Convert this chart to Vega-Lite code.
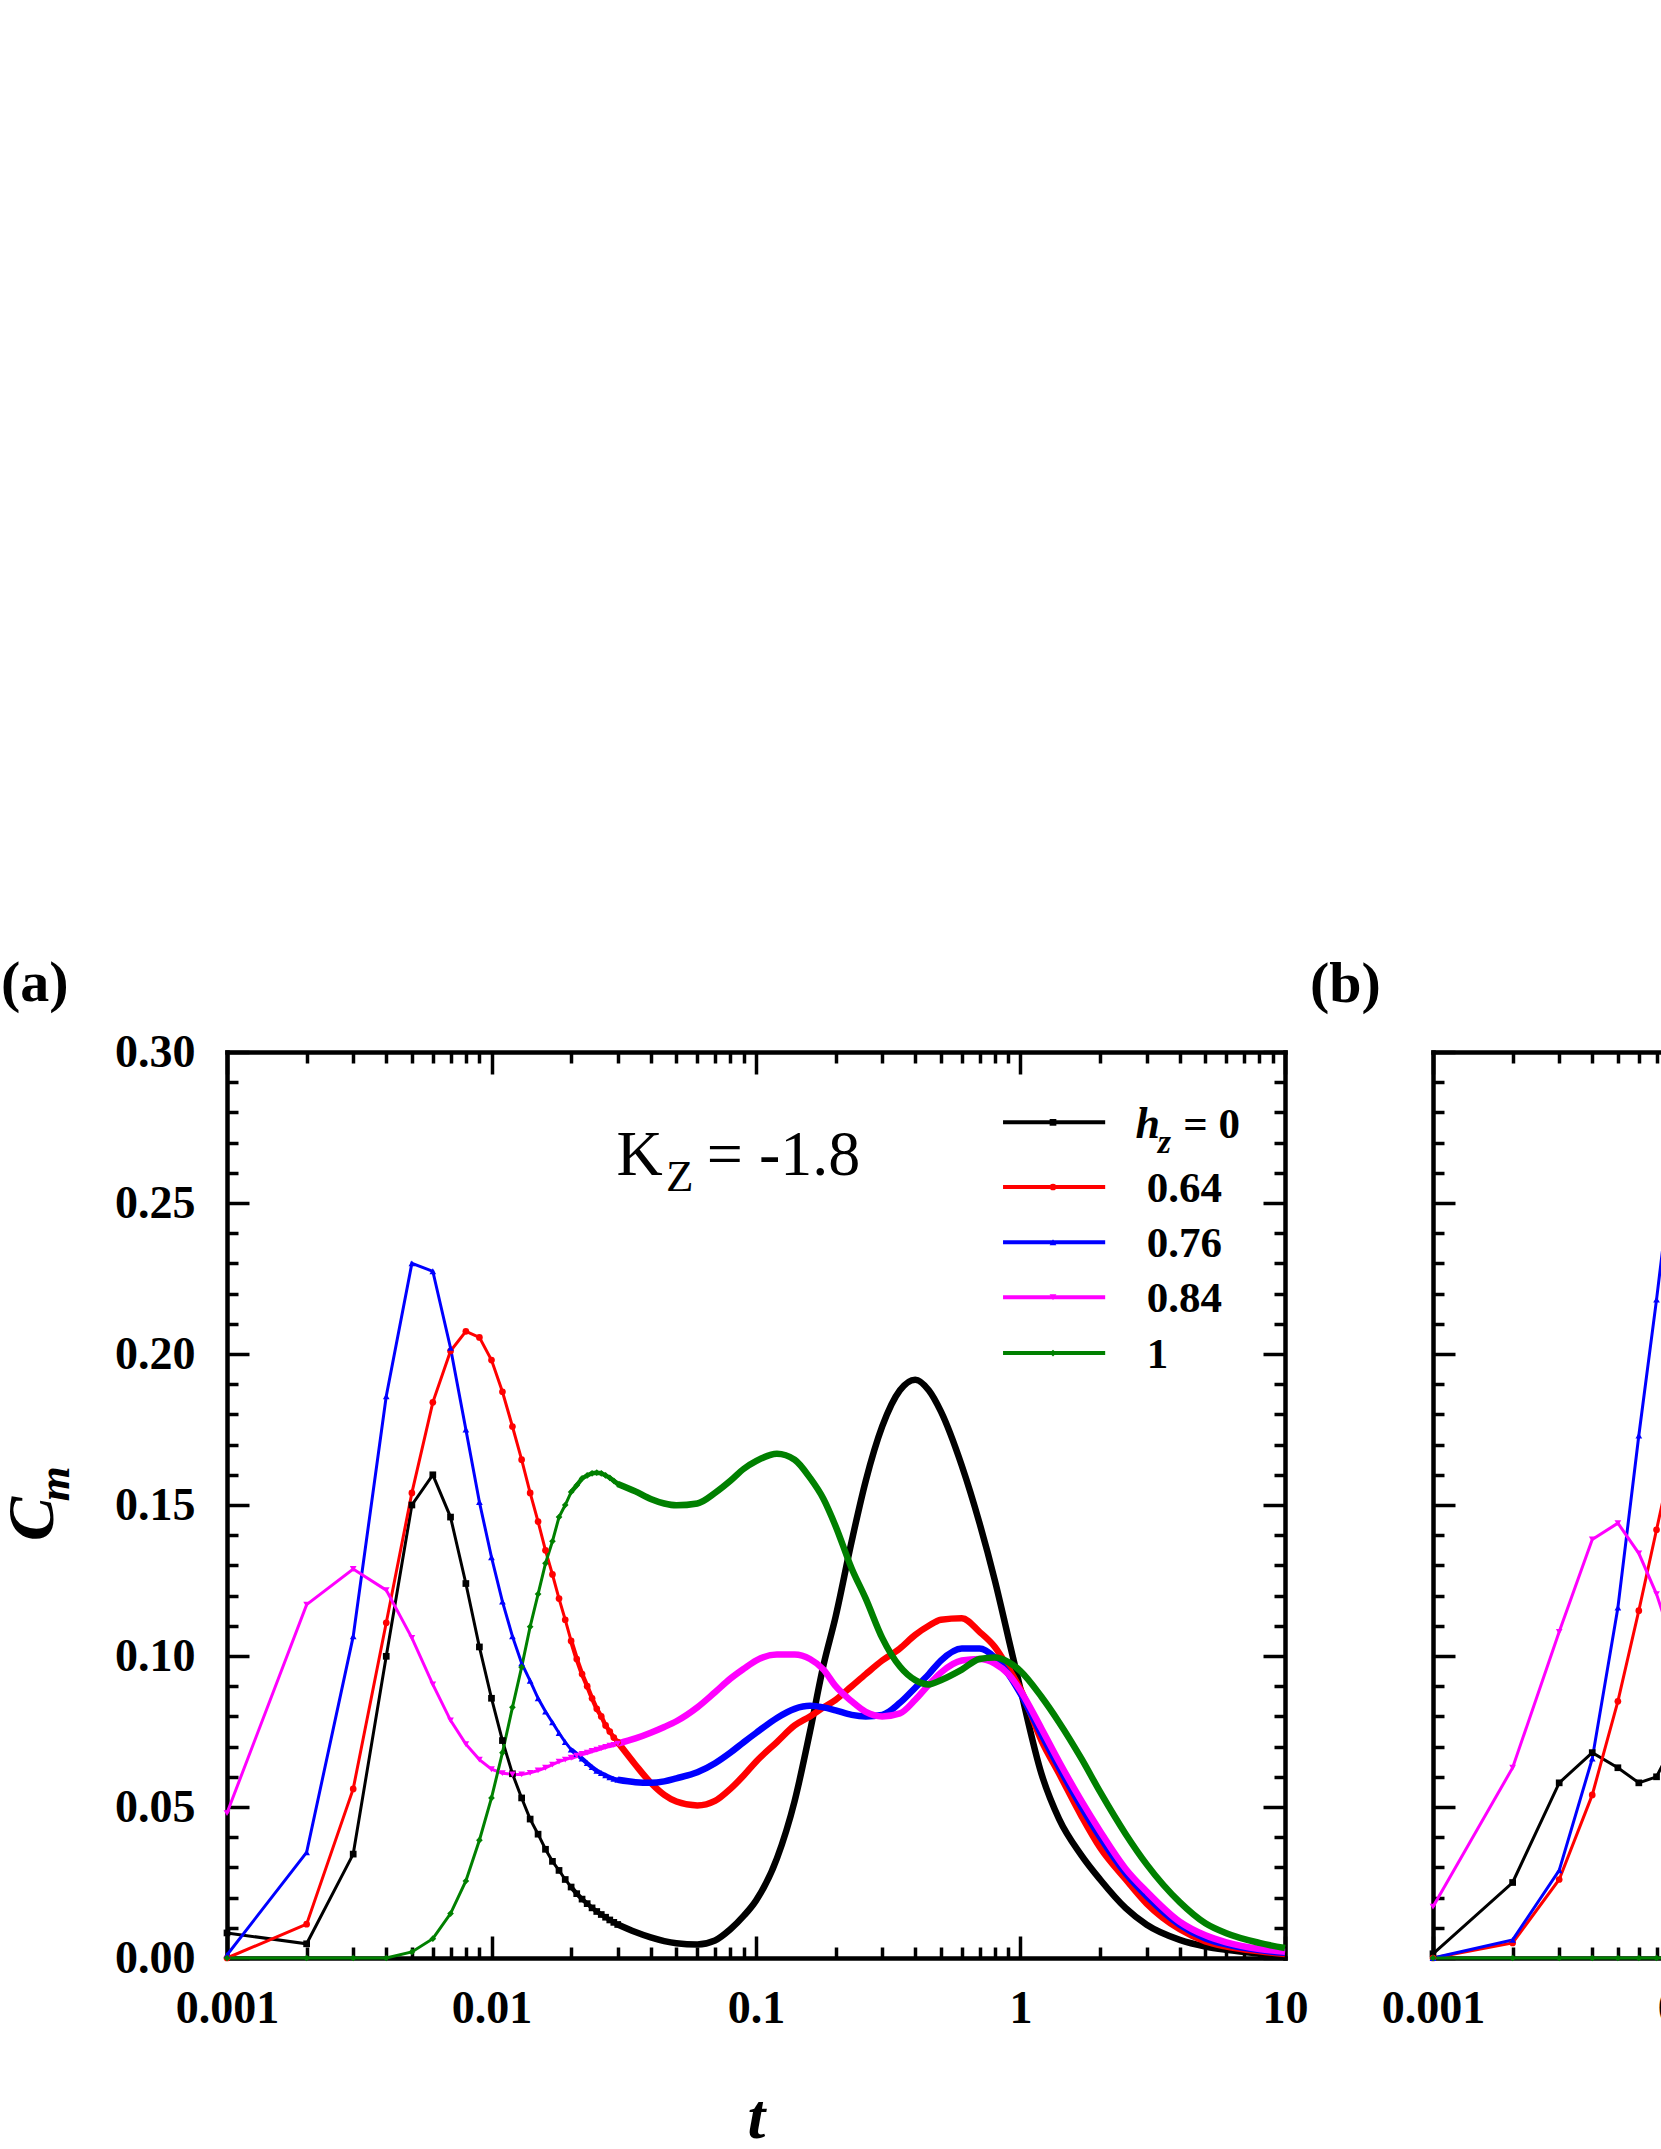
{
  "$schema": "https://vega.github.io/schema/vega-lite/v6.json",
  "background": "white",
  "padding": {"left": 0, "top": 955, "right": 0, "bottom": 0},
  "bounds": "flush",
  "spacing": 148,
  "config": {
    "view": {"stroke": null},
    "font": "Liberation Serif",
    "axis": {
      "grid": false,
      "domainColor": "black",
      "domainWidth": 4.5,
      "domainCap": "square",
      "tickColor": "black",
      "tickWidth": 3.5,
      "labelFont": "Liberation Serif",
      "labelFontWeight": "bold",
      "labelFontSize": 46,
      "labelColor": "black",
      "labelFlush": false,
      "labelOverlap": false,
      "labelBound": false
    }
  },
  "datasets": {
    "a": [
      {"s":"0","t":0.001,"c":0.0083},{"s":"0","t":0.002,"c":0.0047},{"s":"0","t":0.003,"c":0.0344},{"s":"0","t":0.004,"c":0.0999},{"s":"0","t":0.005,"c":0.150},{"s":"0","t":0.006,"c":0.160},{"s":"0","t":0.007,"c":0.146},{"s":"0","t":0.008,"c":0.124},{"s":"0","t":0.009,"c":0.103},{"s":"0","t":0.010,"c":0.086},
      {"s":"0","t":0.011,"c":0.072},{"s":"0","t":0.012,"c":0.061},{"s":"0","t":0.013,"c":0.053},{"s":"0","t":0.014,"c":0.046},{"s":"0","t":0.015,"c":0.041},{"s":"0","t":0.016,"c":0.036},{"s":"0","t":0.017,"c":0.032},{"s":"0","t":0.018,"c":0.029},{"s":"0","t":0.019,"c":0.026},{"s":"0","t":0.020,"c":0.0235},
      {"s":"0","t":0.021,"c":0.0213},{"s":"0","t":0.022,"c":0.0195},{"s":"0","t":0.023,"c":0.018},{"s":"0","t":0.024,"c":0.0166},{"s":"0","t":0.025,"c":0.0154},{"s":"0","t":0.026,"c":0.0144},{"s":"0","t":0.027,"c":0.0135},{"s":"0","t":0.028,"c":0.0126},{"s":"0","t":0.029,"c":0.0118},{"s":"0","t":0.030,"c":0.0111},
      {"s":"0","t":0.035,"c":0.0086},{"s":"0","t":0.04,"c":0.0068},{"s":"0","t":0.045,"c":0.0056},{"s":"0","t":0.05,"c":0.0049},{"s":"0","t":0.06,"c":0.0045},{"s":"0","t":0.07,"c":0.0058},{"s":"0","t":0.08,"c":0.0095},{"s":"0","t":0.09,"c":0.014},{"s":"0","t":0.1,"c":0.019},{"s":"0","t":0.12,"c":0.033},
      {"s":"0","t":0.14,"c":0.052},{"s":"0","t":0.16,"c":0.075},{"s":"0","t":0.18,"c":0.097},{"s":"0","t":0.2,"c":0.113},{"s":"0","t":0.23,"c":0.138},{"s":"0","t":0.26,"c":0.158},{"s":"0","t":0.3,"c":0.176},{"s":"0","t":0.35,"c":0.188},{"s":"0","t":0.4,"c":0.1915},{"s":"0","t":0.45,"c":0.188},
      {"s":"0","t":0.5,"c":0.181},{"s":"0","t":0.6,"c":0.163},{"s":"0","t":0.7,"c":0.144},{"s":"0","t":0.8,"c":0.125},{"s":"0","t":0.9,"c":0.106},{"s":"0","t":1,"c":0.089},{"s":"0","t":1.2,"c":0.061},{"s":"0","t":1.4,"c":0.046},{"s":"0","t":1.7,"c":0.034},{"s":"0","t":2,"c":0.026},
      {"s":"0","t":2.5,"c":0.0165},{"s":"0","t":3,"c":0.011},{"s":"0","t":4,"c":0.006},{"s":"0","t":5,"c":0.0038},{"s":"0","t":6,"c":0.0027},{"s":"0","t":8,"c":0.0015},{"s":"0","t":10,"c":0.0008},

      {"s":"0.64","t":0.001,"c":0},{"s":"0.64","t":0.002,"c":0.0112},{"s":"0.64","t":0.003,"c":0.056},{"s":"0.64","t":0.004,"c":0.111},{"s":"0.64","t":0.005,"c":0.154},{"s":"0.64","t":0.006,"c":0.184},{"s":"0.64","t":0.007,"c":0.201},{"s":"0.64","t":0.008,"c":0.2075},{"s":"0.64","t":0.009,"c":0.2055},{"s":"0.64","t":0.010,"c":0.198},
      {"s":"0.64","t":0.011,"c":0.1875},{"s":"0.64","t":0.012,"c":0.176},{"s":"0.64","t":0.013,"c":0.165},{"s":"0.64","t":0.014,"c":0.154},{"s":"0.64","t":0.015,"c":0.1445},{"s":"0.64","t":0.016,"c":0.135},{"s":"0.64","t":0.017,"c":0.127},{"s":"0.64","t":0.018,"c":0.119},{"s":"0.64","t":0.019,"c":0.112},{"s":"0.64","t":0.020,"c":0.105},
      {"s":"0.64","t":0.021,"c":0.099},{"s":"0.64","t":0.022,"c":0.094},{"s":"0.64","t":0.023,"c":0.090},{"s":"0.64","t":0.024,"c":0.086},{"s":"0.64","t":0.025,"c":0.0825},{"s":"0.64","t":0.026,"c":0.080},{"s":"0.64","t":0.027,"c":0.077},{"s":"0.64","t":0.028,"c":0.075},{"s":"0.64","t":0.029,"c":0.073},{"s":"0.64","t":0.030,"c":0.0715},
      {"s":"0.64","t":0.035,"c":0.064},{"s":"0.64","t":0.04,"c":0.058},{"s":"0.64","t":0.045,"c":0.054},{"s":"0.64","t":0.05,"c":0.0518},{"s":"0.64","t":0.06,"c":0.0505},{"s":"0.64","t":0.07,"c":0.052},{"s":"0.64","t":0.08,"c":0.056},{"s":"0.64","t":0.09,"c":0.0605},{"s":"0.64","t":0.1,"c":0.065},{"s":"0.64","t":0.12,"c":0.0715},
      {"s":"0.64","t":0.14,"c":0.077},{"s":"0.64","t":0.16,"c":0.080},{"s":"0.64","t":0.18,"c":0.083},{"s":"0.64","t":0.2,"c":0.0855},{"s":"0.64","t":0.23,"c":0.090},{"s":"0.64","t":0.26,"c":0.094},{"s":"0.64","t":0.3,"c":0.0985},{"s":"0.64","t":0.35,"c":0.1025},{"s":"0.64","t":0.4,"c":0.107},{"s":"0.64","t":0.45,"c":0.110},
      {"s":"0.64","t":0.5,"c":0.112},{"s":"0.64","t":0.6,"c":0.1125},{"s":"0.64","t":0.7,"c":0.108},{"s":"0.64","t":0.8,"c":0.103},{"s":"0.64","t":0.9,"c":0.096},{"s":"0.64","t":1,"c":0.089},{"s":"0.64","t":1.2,"c":0.072},{"s":"0.64","t":1.4,"c":0.061},{"s":"0.64","t":1.7,"c":0.047},{"s":"0.64","t":2,"c":0.0365},
      {"s":"0.64","t":2.5,"c":0.026},{"s":"0.64","t":3,"c":0.018},{"s":"0.64","t":4,"c":0.0095},{"s":"0.64","t":5,"c":0.0055},{"s":"0.64","t":6,"c":0.0038},{"s":"0.64","t":8,"c":0.0022},{"s":"0.64","t":10,"c":0.0013},

      {"s":"0.76","t":0.001,"c":0.001},{"s":"0.76","t":0.002,"c":0.035},{"s":"0.76","t":0.003,"c":0.1065},{"s":"0.76","t":0.004,"c":0.186},{"s":"0.76","t":0.005,"c":0.230},{"s":"0.76","t":0.006,"c":0.2274},{"s":"0.76","t":0.007,"c":0.202},{"s":"0.76","t":0.008,"c":0.175},{"s":"0.76","t":0.009,"c":0.151},{"s":"0.76","t":0.010,"c":0.1327},
      {"s":"0.76","t":0.011,"c":0.118},{"s":"0.76","t":0.012,"c":0.1065},{"s":"0.76","t":0.013,"c":0.0976},{"s":"0.76","t":0.014,"c":0.0918},{"s":"0.76","t":0.015,"c":0.086},{"s":"0.76","t":0.016,"c":0.0816},{"s":"0.76","t":0.017,"c":0.078},{"s":"0.76","t":0.018,"c":0.0745},{"s":"0.76","t":0.019,"c":0.0715},{"s":"0.76","t":0.020,"c":0.069},
      {"s":"0.76","t":0.021,"c":0.0675},{"s":"0.76","t":0.022,"c":0.066},{"s":"0.76","t":0.023,"c":0.0645},{"s":"0.76","t":0.024,"c":0.0632},{"s":"0.76","t":0.025,"c":0.062},{"s":"0.76","t":0.026,"c":0.0612},{"s":"0.76","t":0.027,"c":0.0605},{"s":"0.76","t":0.028,"c":0.0598},{"s":"0.76","t":0.029,"c":0.0593},{"s":"0.76","t":0.030,"c":0.059},
      {"s":"0.76","t":0.035,"c":0.0582},{"s":"0.76","t":0.04,"c":0.058},{"s":"0.76","t":0.045,"c":0.0585},{"s":"0.76","t":0.05,"c":0.0595},{"s":"0.76","t":0.06,"c":0.0615},{"s":"0.76","t":0.07,"c":0.0645},{"s":"0.76","t":0.08,"c":0.068},{"s":"0.76","t":0.09,"c":0.0715},{"s":"0.76","t":0.1,"c":0.0745},{"s":"0.76","t":0.12,"c":0.0795},
      {"s":"0.76","t":0.14,"c":0.0825},{"s":"0.76","t":0.16,"c":0.0835},{"s":"0.76","t":0.18,"c":0.083},{"s":"0.76","t":0.2,"c":0.082},{"s":"0.76","t":0.23,"c":0.0805},{"s":"0.76","t":0.26,"c":0.080},{"s":"0.76","t":0.3,"c":0.0805},{"s":"0.76","t":0.35,"c":0.0845},{"s":"0.76","t":0.4,"c":0.0895},{"s":"0.76","t":0.45,"c":0.094},
      {"s":"0.76","t":0.5,"c":0.0985},{"s":"0.76","t":0.6,"c":0.1025},{"s":"0.76","t":0.7,"c":0.1025},{"s":"0.76","t":0.8,"c":0.0995},{"s":"0.76","t":0.9,"c":0.094},{"s":"0.76","t":1,"c":0.0875},{"s":"0.76","t":1.2,"c":0.074},{"s":"0.76","t":1.4,"c":0.063},{"s":"0.76","t":1.7,"c":0.050},{"s":"0.76","t":2,"c":0.040},
      {"s":"0.76","t":2.5,"c":0.028},{"s":"0.76","t":3,"c":0.0205},{"s":"0.76","t":4,"c":0.011},{"s":"0.76","t":5,"c":0.0065},{"s":"0.76","t":6,"c":0.0045},{"s":"0.76","t":8,"c":0.0026},{"s":"0.76","t":10,"c":0.0017},

      {"s":"0.84","t":0.001,"c":0.048},{"s":"0.84","t":0.002,"c":0.117},{"s":"0.84","t":0.003,"c":0.1288},{"s":"0.84","t":0.004,"c":0.1218},{"s":"0.84","t":0.005,"c":0.106},{"s":"0.84","t":0.006,"c":0.0906},{"s":"0.84","t":0.007,"c":0.0787},{"s":"0.84","t":0.008,"c":0.0708},{"s":"0.84","t":0.009,"c":0.0657},{"s":"0.84","t":0.010,"c":0.0625},
      {"s":"0.84","t":0.011,"c":0.0612},{"s":"0.84","t":0.012,"c":0.0608},{"s":"0.84","t":0.013,"c":0.0608},{"s":"0.84","t":0.014,"c":0.0613},{"s":"0.84","t":0.015,"c":0.0621},{"s":"0.84","t":0.016,"c":0.063},{"s":"0.84","t":0.017,"c":0.064},{"s":"0.84","t":0.018,"c":0.065},{"s":"0.84","t":0.019,"c":0.0657},{"s":"0.84","t":0.020,"c":0.0663},
      {"s":"0.84","t":0.021,"c":0.067},{"s":"0.84","t":0.022,"c":0.0676},{"s":"0.84","t":0.023,"c":0.068},{"s":"0.84","t":0.024,"c":0.0686},{"s":"0.84","t":0.025,"c":0.069},{"s":"0.84","t":0.026,"c":0.0695},{"s":"0.84","t":0.027,"c":0.0699},{"s":"0.84","t":0.028,"c":0.0703},{"s":"0.84","t":0.029,"c":0.0706},{"s":"0.84","t":0.030,"c":0.071},
      {"s":"0.84","t":0.035,"c":0.0727},{"s":"0.84","t":0.04,"c":0.0746},{"s":"0.84","t":0.045,"c":0.0765},{"s":"0.84","t":0.05,"c":0.0784},{"s":"0.84","t":0.06,"c":0.083},{"s":"0.84","t":0.07,"c":0.088},{"s":"0.84","t":0.08,"c":0.0925},{"s":"0.84","t":0.09,"c":0.0958},{"s":"0.84","t":0.1,"c":0.0985},{"s":"0.84","t":0.12,"c":0.1005},
      {"s":"0.84","t":0.14,"c":0.1005},{"s":"0.84","t":0.16,"c":0.099},{"s":"0.84","t":0.18,"c":0.0955},{"s":"0.84","t":0.2,"c":0.090},{"s":"0.84","t":0.23,"c":0.085},{"s":"0.84","t":0.26,"c":0.0815},{"s":"0.84","t":0.3,"c":0.080},{"s":"0.84","t":0.35,"c":0.081},{"s":"0.84","t":0.4,"c":0.0855},{"s":"0.84","t":0.45,"c":0.0905},
      {"s":"0.84","t":0.5,"c":0.0945},{"s":"0.84","t":0.6,"c":0.0985},{"s":"0.84","t":0.7,"c":0.099},{"s":"0.84","t":0.8,"c":0.0975},{"s":"0.84","t":0.9,"c":0.094},{"s":"0.84","t":1,"c":0.0885},{"s":"0.84","t":1.2,"c":0.076},{"s":"0.84","t":1.4,"c":0.065},{"s":"0.84","t":1.7,"c":0.052},{"s":"0.84","t":2,"c":0.042},
      {"s":"0.84","t":2.5,"c":0.0295},{"s":"0.84","t":3,"c":0.022},{"s":"0.84","t":4,"c":0.012},{"s":"0.84","t":5,"c":0.0075},{"s":"0.84","t":6,"c":0.0052},{"s":"0.84","t":8,"c":0.003},{"s":"0.84","t":10,"c":0.0021},

      {"s":"1","t":0.001,"c":0},{"s":"1","t":0.002,"c":0},{"s":"1","t":0.003,"c":0},{"s":"1","t":0.004,"c":0},{"s":"1","t":0.005,"c":0.002},{"s":"1","t":0.006,"c":0.0064},{"s":"1","t":0.007,"c":0.0147},{"s":"1","t":0.008,"c":0.0255},{"s":"1","t":0.009,"c":0.039},{"s":"1","t":0.010,"c":0.053},
      {"s":"1","t":0.011,"c":0.068},{"s":"1","t":0.012,"c":0.083},{"s":"1","t":0.013,"c":0.0963},{"s":"1","t":0.014,"c":0.1097},{"s":"1","t":0.015,"c":0.1205},{"s":"1","t":0.016,"c":0.1307},{"s":"1","t":0.017,"c":0.138},{"s":"1","t":0.018,"c":0.146},{"s":"1","t":0.019,"c":0.150},{"s":"1","t":0.020,"c":0.1543},
      {"s":"1","t":0.021,"c":0.1565},{"s":"1","t":0.022,"c":0.1588},{"s":"1","t":0.023,"c":0.1598},{"s":"1","t":0.024,"c":0.1605},{"s":"1","t":0.025,"c":0.1607},{"s":"1","t":0.026,"c":0.1605},{"s":"1","t":0.027,"c":0.1598},{"s":"1","t":0.028,"c":0.159},{"s":"1","t":0.029,"c":0.158},{"s":"1","t":0.030,"c":0.157},
      {"s":"1","t":0.035,"c":0.1545},{"s":"1","t":0.04,"c":0.152},{"s":"1","t":0.045,"c":0.1505},{"s":"1","t":0.05,"c":0.1499},{"s":"1","t":0.06,"c":0.1505},{"s":"1","t":0.07,"c":0.154},{"s":"1","t":0.08,"c":0.158},{"s":"1","t":0.09,"c":0.162},{"s":"1","t":0.1,"c":0.1645},{"s":"1","t":0.12,"c":0.167},
      {"s":"1","t":0.14,"c":0.165},{"s":"1","t":0.16,"c":0.159},{"s":"1","t":0.18,"c":0.152},{"s":"1","t":0.2,"c":0.143},{"s":"1","t":0.23,"c":0.129},{"s":"1","t":0.26,"c":0.119},{"s":"1","t":0.3,"c":0.106},{"s":"1","t":0.35,"c":0.0965},{"s":"1","t":0.4,"c":0.092},{"s":"1","t":0.45,"c":0.0906},
      {"s":"1","t":0.5,"c":0.092},{"s":"1","t":0.6,"c":0.0955},{"s":"1","t":0.7,"c":0.099},{"s":"1","t":0.8,"c":0.0995},{"s":"1","t":0.9,"c":0.098},{"s":"1","t":1,"c":0.095},{"s":"1","t":1.2,"c":0.0865},{"s":"1","t":1.4,"c":0.078},{"s":"1","t":1.7,"c":0.066},{"s":"1","t":2,"c":0.055},
      {"s":"1","t":2.5,"c":0.041},{"s":"1","t":3,"c":0.031},{"s":"1","t":4,"c":0.0185},{"s":"1","t":5,"c":0.0115},{"s":"1","t":6,"c":0.0082},{"s":"1","t":8,"c":0.005},{"s":"1","t":10,"c":0.0033}
    ],
    "b": [
      {"s":"0","t":0.001,"c":0.0014},{"s":"0","t":0.002,"c":0.025},{"s":"0","t":0.003,"c":0.058},{"s":"0","t":0.004,"c":0.068},{"s":"0","t":0.005,"c":0.063},{"s":"0","t":0.006,"c":0.058},{"s":"0","t":0.007,"c":0.060},{"s":"0","t":0.008,"c":0.07},
      {"s":"0.64","t":0.001,"c":0},{"s":"0.64","t":0.002,"c":0.005},{"s":"0.64","t":0.003,"c":0.026},{"s":"0.64","t":0.004,"c":0.054},{"s":"0.64","t":0.005,"c":0.085},{"s":"0.64","t":0.006,"c":0.115},{"s":"0.64","t":0.007,"c":0.1418},{"s":"0.64","t":0.008,"c":0.165},
      {"s":"0.76","t":0.001,"c":0},{"s":"0.76","t":0.002,"c":0.006},{"s":"0.76","t":0.003,"c":0.029},{"s":"0.76","t":0.004,"c":0.066},{"s":"0.76","t":0.005,"c":0.116},{"s":"0.76","t":0.006,"c":0.173},{"s":"0.76","t":0.007,"c":0.218},{"s":"0.76","t":0.008,"c":0.26},
      {"s":"0.84","t":0.001,"c":0.017},{"s":"0.84","t":0.002,"c":0.063},{"s":"0.84","t":0.003,"c":0.108},{"s":"0.84","t":0.004,"c":0.1386},{"s":"0.84","t":0.005,"c":0.144},{"s":"0.84","t":0.006,"c":0.134},{"s":"0.84","t":0.007,"c":0.1205},{"s":"0.84","t":0.008,"c":0.105},
      {"s":"1","t":0.001,"c":0},{"s":"1","t":0.002,"c":0},{"s":"1","t":0.003,"c":0},{"s":"1","t":0.004,"c":0},{"s":"1","t":0.005,"c":0},{"s":"1","t":0.006,"c":0},{"s":"1","t":0.007,"c":0},{"s":"1","t":0.008,"c":0}
    ]
  },
  "hconcat": [
    {
      "width": 1058,
      "height": 906,
      "title": {"text": "(a)", "anchor": "start", "frame": "group", "dx": -226, "offset": 16, "fontSize": 58, "font": "Liberation Serif", "fontWeight": "bold", "color": "black"},
      "resolve": {"axis": {"x": "independent", "y": "independent"}},
      "layer": [
        {
          "data": {"name": "a"},
          "transform": [{"filter": "datum.t <= 0.0205"}],
          "mark": {"type": "line", "strokeWidth": 3},
          "encoding": {
            "x": {"field": "t", "type": "quantitative", "scale": {"type": "log", "domain": [0.001, 10]},
              "axis": {"orient": "bottom",
                "values": [0.001,0.002,0.003,0.004,0.005,0.006,0.007,0.008,0.009,0.01,0.02,0.03,0.04,0.05,0.06,0.07,0.08,0.09,0.1,0.2,0.3,0.4,0.5,0.6,0.7,0.8,0.9,1,2,3,4,5,6,7,8,9,10],
                "labelExpr": "datum.value==0.001?'0.001':datum.value==0.01?'0.01':datum.value==0.1?'0.1':datum.value==1?'1':datum.value==10?'10':''",
                "tickSize": {"condition": {"test": "indexof([0.001,0.01,0.1,1,10],datum.value)>=0", "value": -22}, "value": -11},
                "labelPadding": 50,
                "title": "t", "titleFont": "Liberation Serif", "titleFontSize": 64, "titleFontStyle": "italic", "titleFontWeight": "bold", "titleColor": "black", "titlePadding": 44}},
            "y": {"field": "c", "type": "quantitative", "scale": {"domain": [0, 0.3]},
              "axis": {"orient": "left",
                "values": [0,0.01,0.02,0.03,0.04,0.05,0.06,0.07,0.08,0.09,0.1,0.11,0.12,0.13,0.14,0.15,0.16,0.17,0.18,0.19,0.2,0.21,0.22,0.23,0.24,0.25,0.26,0.27,0.28,0.29,0.3],
                "labelExpr": "abs(datum.value*20-round(datum.value*20))<0.001 ? format(datum.value,'.2f') : ''",
                "tickSize": {"condition": {"test": "abs(datum.value*20-round(datum.value*20))<0.001", "value": -22}, "value": -11},
                "labelPadding": 54,
                "title": null}},
            "color": {"field": "s", "type": "nominal", "scale": {"domain": ["0","0.64","0.76","0.84","1"], "range": ["#000000","#ff0000","#0000ff","#ff00ff","#008000"]}, "legend": null}
          }
        },
        {
          "data": {"name": "a"},
          "transform": [{"filter": "datum.t >= 0.0195 && datum.t <= 0.0305"}],
          "mark": {"type": "line", "strokeWidth": 4.5},
          "encoding": {
            "x": {"field": "t", "type": "quantitative", "scale": {"type": "log", "domain": [0.001, 10]}, "axis": null},
            "y": {"field": "c", "type": "quantitative", "scale": {"domain": [0, 0.3]}, "axis": null},
            "color": {"field": "s", "type": "nominal", "legend": null}
          }
        },
        {
          "data": {"name": "a"},
          "transform": [{"filter": "datum.t >= 0.0295"}],
          "mark": {"type": "line", "strokeWidth": 6.5, "interpolate": "monotone"},
          "encoding": {
            "x": {"field": "t", "type": "quantitative", "scale": {"type": "log", "domain": [0.001, 10]}, "axis": null},
            "y": {"field": "c", "type": "quantitative", "scale": {"domain": [0, 0.3]}, "axis": null},
            "color": {"field": "s", "type": "nominal", "legend": null}
          }
        },
        {
          "data": {"name": "a"},
          "transform": [{"filter": "datum.t <= 0.0305"}],
          "mark": {"type": "point", "filled": true, "size": 45, "opacity": 1},
          "encoding": {
            "x": {"field": "t", "type": "quantitative", "scale": {"type": "log", "domain": [0.001, 10]},
              "axis": {"orient": "top", "labels": false, "title": null,
                "values": [0.001,0.002,0.003,0.004,0.005,0.006,0.007,0.008,0.009,0.01,0.02,0.03,0.04,0.05,0.06,0.07,0.08,0.09,0.1,0.2,0.3,0.4,0.5,0.6,0.7,0.8,0.9,1,2,3,4,5,6,7,8,9,10],
                "tickSize": {"condition": {"test": "indexof([0.001,0.01,0.1,1,10],datum.value)>=0", "value": -22}, "value": -11}}},
            "y": {"field": "c", "type": "quantitative", "scale": {"domain": [0, 0.3]},
              "axis": {"orient": "right", "labels": false, "title": null,
                "values": [0,0.01,0.02,0.03,0.04,0.05,0.06,0.07,0.08,0.09,0.1,0.11,0.12,0.13,0.14,0.15,0.16,0.17,0.18,0.19,0.2,0.21,0.22,0.23,0.24,0.25,0.26,0.27,0.28,0.29,0.3],
                "tickSize": {"condition": {"test": "abs(datum.value*20-round(datum.value*20))<0.001", "value": -22}, "value": -11}}},
            "color": {"field": "s", "type": "nominal", "legend": null},
            "shape": {"field": "s", "type": "nominal", "scale": {"domain": ["0","0.64","0.76","0.84","1"], "range": ["square","circle","triangle-up","triangle-down","diamond"]}, "legend": null}
          }
        },
        {"data": {"values": [{}]}, "mark": {"type": "rule", "strokeWidth": 4, "color": "#000000"},
          "encoding": {"x": {"datum": 0.859, "type": "quantitative", "axis": null}, "x2": {"datum": 2.09}, "y": {"datum": 0.2767, "type": "quantitative", "axis": null}}},
        {"data": {"values": [{}]}, "mark": {"type": "rule", "strokeWidth": 4, "color": "#ff0000"},
          "encoding": {"x": {"datum": 0.859, "type": "quantitative", "axis": null}, "x2": {"datum": 2.09}, "y": {"datum": 0.2553, "type": "quantitative", "axis": null}}},
        {"data": {"values": [{}]}, "mark": {"type": "rule", "strokeWidth": 4, "color": "#0000ff"},
          "encoding": {"x": {"datum": 0.859, "type": "quantitative", "axis": null}, "x2": {"datum": 2.09}, "y": {"datum": 0.237, "type": "quantitative", "axis": null}}},
        {"data": {"values": [{}]}, "mark": {"type": "rule", "strokeWidth": 4, "color": "#ff00ff"},
          "encoding": {"x": {"datum": 0.859, "type": "quantitative", "axis": null}, "x2": {"datum": 2.09}, "y": {"datum": 0.2188, "type": "quantitative", "axis": null}}},
        {"data": {"values": [{}]}, "mark": {"type": "rule", "strokeWidth": 4, "color": "#008000"},
          "encoding": {"x": {"datum": 0.859, "type": "quantitative", "axis": null}, "x2": {"datum": 2.09}, "y": {"datum": 0.2003, "type": "quantitative", "axis": null}}},
        {"data": {"values": [{}]}, "mark": {"type": "point", "filled": true, "size": 45, "opacity": 1, "shape": "square", "color": "#000000"},
          "encoding": {"x": {"datum": 1.327, "type": "quantitative", "axis": null}, "y": {"datum": 0.2767, "type": "quantitative", "axis": null}}},
        {"data": {"values": [{}]}, "mark": {"type": "point", "filled": true, "size": 45, "opacity": 1, "shape": "circle", "color": "#ff0000"},
          "encoding": {"x": {"datum": 1.327, "type": "quantitative", "axis": null}, "y": {"datum": 0.2553, "type": "quantitative", "axis": null}}},
        {"data": {"values": [{}]}, "mark": {"type": "point", "filled": true, "size": 45, "opacity": 1, "shape": "triangle-up", "color": "#0000ff"},
          "encoding": {"x": {"datum": 1.327, "type": "quantitative", "axis": null}, "y": {"datum": 0.237, "type": "quantitative", "axis": null}}},
        {"data": {"values": [{}]}, "mark": {"type": "point", "filled": true, "size": 45, "opacity": 1, "shape": "triangle-down", "color": "#ff00ff"},
          "encoding": {"x": {"datum": 1.327, "type": "quantitative", "axis": null}, "y": {"datum": 0.2188, "type": "quantitative", "axis": null}}},
        {"data": {"values": [{}]}, "mark": {"type": "point", "filled": true, "size": 45, "opacity": 1, "shape": "diamond", "color": "#008000"},
          "encoding": {"x": {"datum": 1.327, "type": "quantitative", "axis": null}, "y": {"datum": 0.2003, "type": "quantitative", "axis": null}}},
        {"data": {"values": [{}]}, "mark": {"type": "text", "text": "h", "font": "Liberation Serif", "fontSize": 44, "fontWeight": "bold", "fontStyle": "italic", "align": "left", "baseline": "alphabetic", "color": "black"},
          "encoding": {"x": {"datum": 2.72, "type": "quantitative", "axis": null}, "y": {"datum": 0.2715, "type": "quantitative", "axis": null}}},
        {"data": {"values": [{}]}, "mark": {"type": "text", "text": "z", "font": "Liberation Serif", "fontSize": 34, "fontWeight": "bold", "fontStyle": "italic", "align": "left", "baseline": "alphabetic", "color": "black"},
          "encoding": {"x": {"datum": 3.3, "type": "quantitative", "axis": null}, "y": {"datum": 0.2666, "type": "quantitative", "axis": null}}},
        {"data": {"values": [{}]}, "mark": {"type": "text", "text": "= 0", "font": "Liberation Serif", "fontSize": 43, "fontWeight": "bold", "align": "left", "baseline": "alphabetic", "color": "black"},
          "encoding": {"x": {"datum": 4.12, "type": "quantitative", "axis": null}, "y": {"datum": 0.2715, "type": "quantitative", "axis": null}}},
        {"data": {"values": [{}]}, "mark": {"type": "text", "text": "0.64", "font": "Liberation Serif", "fontSize": 43, "fontWeight": "bold", "align": "left", "baseline": "alphabetic", "color": "black"},
          "encoding": {"x": {"datum": 3.0, "type": "quantitative", "axis": null}, "y": {"datum": 0.2503, "type": "quantitative", "axis": null}}},
        {"data": {"values": [{}]}, "mark": {"type": "text", "text": "0.76", "font": "Liberation Serif", "fontSize": 43, "fontWeight": "bold", "align": "left", "baseline": "alphabetic", "color": "black"},
          "encoding": {"x": {"datum": 3.0, "type": "quantitative", "axis": null}, "y": {"datum": 0.232, "type": "quantitative", "axis": null}}},
        {"data": {"values": [{}]}, "mark": {"type": "text", "text": "0.84", "font": "Liberation Serif", "fontSize": 43, "fontWeight": "bold", "align": "left", "baseline": "alphabetic", "color": "black"},
          "encoding": {"x": {"datum": 3.0, "type": "quantitative", "axis": null}, "y": {"datum": 0.2138, "type": "quantitative", "axis": null}}},
        {"data": {"values": [{}]}, "mark": {"type": "text", "text": "1", "font": "Liberation Serif", "fontSize": 43, "fontWeight": "bold", "align": "left", "baseline": "alphabetic", "color": "black"},
          "encoding": {"x": {"datum": 3.0, "type": "quantitative", "axis": null}, "y": {"datum": 0.1953, "type": "quantitative", "axis": null}}},
        {"data": {"values": [{}]}, "mark": {"type": "text", "text": "K", "font": "Liberation Serif", "fontSize": 64, "align": "left", "baseline": "alphabetic", "color": "black"},
          "encoding": {"x": {"datum": 0.0297, "type": "quantitative", "axis": null}, "y": {"datum": 0.2594, "type": "quantitative", "axis": null}}},
        {"data": {"values": [{}]}, "mark": {"type": "text", "text": "Z", "font": "Liberation Serif", "fontSize": 45, "align": "left", "baseline": "alphabetic", "color": "black"},
          "encoding": {"x": {"datum": 0.0457, "type": "quantitative", "axis": null}, "y": {"datum": 0.2539, "type": "quantitative", "axis": null}}},
        {"data": {"values": [{}]}, "mark": {"type": "text", "text": "= -1.8", "font": "Liberation Serif", "fontSize": 64, "align": "left", "baseline": "alphabetic", "color": "black"},
          "encoding": {"x": {"datum": 0.0652, "type": "quantitative", "axis": null}, "y": {"datum": 0.2594, "type": "quantitative", "axis": null}}},
        {"data": {"values": [{}]}, "mark": {"type": "text", "text": "C", "font": "Liberation Serif", "fontSize": 66, "fontWeight": "bold", "fontStyle": "italic", "angle": 270, "align": "center", "baseline": "alphabetic", "color": "black"},
          "encoding": {"x": {"datum": 0.00022, "type": "quantitative", "axis": null}, "y": {"datum": 0.1454, "type": "quantitative", "axis": null}}},
        {"data": {"values": [{}]}, "mark": {"type": "text", "text": "m", "font": "Liberation Serif", "fontSize": 45, "fontWeight": "bold", "fontStyle": "italic", "angle": 270, "align": "center", "baseline": "alphabetic", "color": "black"},
          "encoding": {"x": {"datum": 0.000253, "type": "quantitative", "axis": null}, "y": {"datum": 0.157, "type": "quantitative", "axis": null}}}
      ]
    },
    {
      "width": 1058,
      "height": 906,
      "title": {"text": "(b)", "anchor": "start", "frame": "group", "dx": -123, "offset": 36, "fontSize": 58, "font": "Liberation Serif", "fontWeight": "bold", "color": "black"},
      "resolve": {"axis": {"x": "independent", "y": "independent"}},
      "layer": [
        {
          "data": {"name": "b"},
          "mark": {"type": "line", "strokeWidth": 3},
          "encoding": {
            "x": {"field": "t", "type": "quantitative", "scale": {"type": "log", "domain": [0.001, 10]},
              "axis": {"orient": "bottom",
                "values": [0.001,0.002,0.003,0.004,0.005,0.006,0.007,0.008,0.009,0.01,0.02,0.03,0.04,0.05,0.06,0.07,0.08,0.09,0.1,0.2,0.3,0.4,0.5,0.6,0.7,0.8,0.9,1,2,3,4,5,6,7,8,9,10],
                "labelExpr": "datum.value==0.001?'0.001':datum.value==0.01?'0.01':datum.value==0.1?'0.1':datum.value==1?'1':datum.value==10?'10':''",
                "tickSize": {"condition": {"test": "indexof([0.001,0.01,0.1,1,10],datum.value)>=0", "value": -22}, "value": -11},
                "labelPadding": 50,
                "title": "t", "titleFont": "Liberation Serif", "titleFontSize": 64, "titleFontStyle": "italic", "titleFontWeight": "bold", "titleColor": "black", "titlePadding": 44}},
            "y": {"field": "c", "type": "quantitative", "scale": {"domain": [0, 0.3]},
              "axis": {"orient": "left", "labels": false, "title": null,
                "values": [0,0.01,0.02,0.03,0.04,0.05,0.06,0.07,0.08,0.09,0.1,0.11,0.12,0.13,0.14,0.15,0.16,0.17,0.18,0.19,0.2,0.21,0.22,0.23,0.24,0.25,0.26,0.27,0.28,0.29,0.3],
                "tickSize": {"condition": {"test": "abs(datum.value*20-round(datum.value*20))<0.001", "value": -22}, "value": -11}}},
            "color": {"field": "s", "type": "nominal", "scale": {"domain": ["0","0.64","0.76","0.84","1"], "range": ["#000000","#ff0000","#0000ff","#ff00ff","#008000"]}, "legend": null}
          }
        },
        {
          "data": {"name": "b"},
          "mark": {"type": "point", "filled": true, "size": 45, "opacity": 1},
          "encoding": {
            "x": {"field": "t", "type": "quantitative", "scale": {"type": "log", "domain": [0.001, 10]},
              "axis": {"orient": "top", "labels": false, "title": null,
                "values": [0.001,0.002,0.003,0.004,0.005,0.006,0.007,0.008,0.009,0.01,0.02,0.03,0.04,0.05,0.06,0.07,0.08,0.09,0.1,0.2,0.3,0.4,0.5,0.6,0.7,0.8,0.9,1,2,3,4,5,6,7,8,9,10],
                "tickSize": {"condition": {"test": "indexof([0.001,0.01,0.1,1,10],datum.value)>=0", "value": -22}, "value": -11}}},
            "y": {"field": "c", "type": "quantitative", "scale": {"domain": [0, 0.3]},
              "axis": {"orient": "right", "labels": false, "title": null,
                "values": [0,0.01,0.02,0.03,0.04,0.05,0.06,0.07,0.08,0.09,0.1,0.11,0.12,0.13,0.14,0.15,0.16,0.17,0.18,0.19,0.2,0.21,0.22,0.23,0.24,0.25,0.26,0.27,0.28,0.29,0.3],
                "tickSize": {"condition": {"test": "abs(datum.value*20-round(datum.value*20))<0.001", "value": -22}, "value": -11}}},
            "color": {"field": "s", "type": "nominal", "legend": null},
            "shape": {"field": "s", "type": "nominal", "scale": {"domain": ["0","0.64","0.76","0.84","1"], "range": ["square","circle","triangle-up","triangle-down","diamond"]}, "legend": null}
          }
        }
      ]
    }
  ]
}
